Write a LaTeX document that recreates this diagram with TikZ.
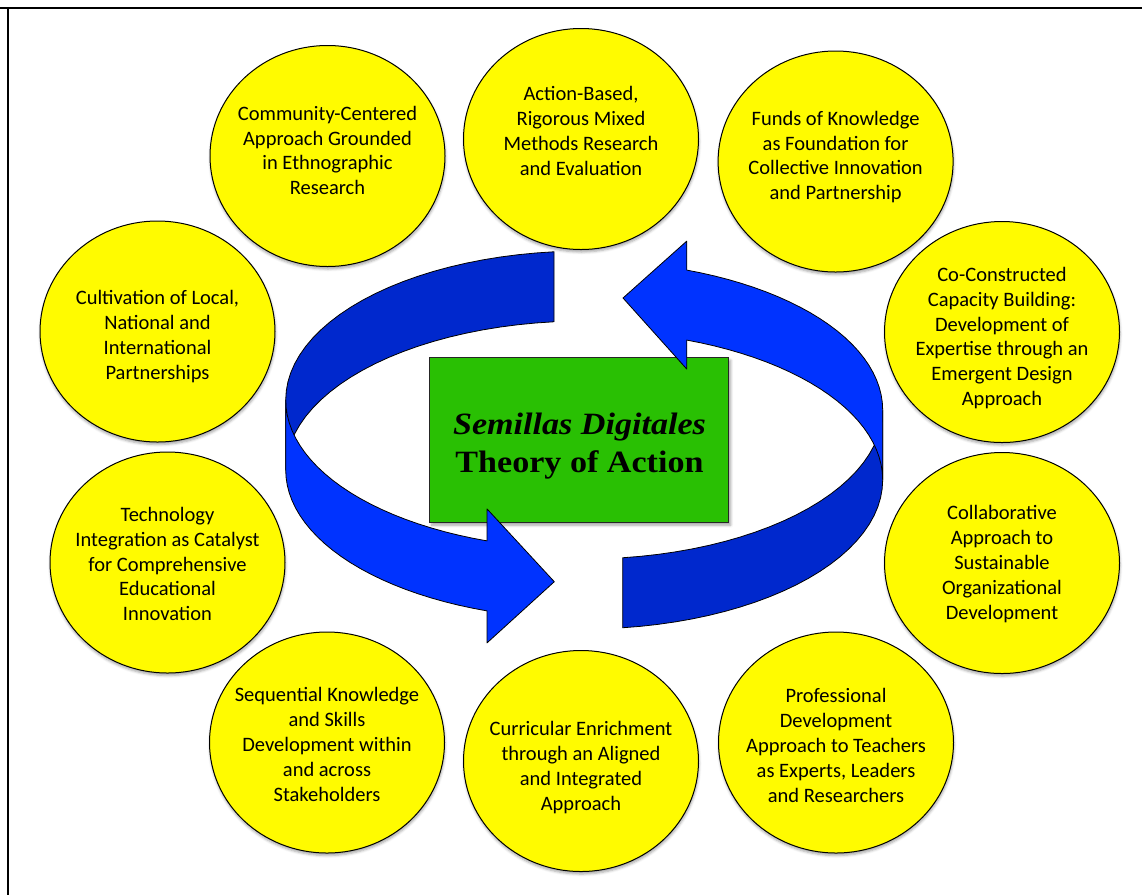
\documentclass[tikz,border=0pt]{standalone}
\usepackage{fontspec}
\setmainfont{Carlito}
\newfontfamily\titlefont[FakeStretch=1.1]{Liberation Serif}
\usetikzlibrary{shapes.geometric,shadows.blur}

\definecolor{bubbleyellow}{RGB}{255,251,0}
\definecolor{boxgreen}{RGB}{41,192,3}
\definecolor{ribbonlight}{RGB}{0,51,255}
\definecolor{ribbondark}{RGB}{0,40,205}

\tikzset{
	bubble/.style={ellipse, draw=black, line width=1pt, fill=bubbleyellow,
		minimum width=235pt, minimum height=221pt, inner sep=0pt,
		blur shadow={shadow xshift=0.5pt, shadow yshift=-2.5pt, shadow blur radius=2.5pt, shadow opacity=35}},
	bubbletext/.style={align=center, font=\fontsize{20.5}{24.8}\selectfont},
	corebox/.style={draw=black!85, line width=1pt, fill=boxgreen, minimum width=299pt,
		minimum height=165pt, inner sep=0pt,
		blur shadow={shadow xshift=2pt, shadow yshift=-2.5pt, shadow blur radius=2.5pt, shadow opacity=35}},
	coretext/.style={align=center, font=\titlefont\bfseries\fontsize{31}{38}\selectfont},
	ribbon/.style={draw=black, line width=0.8pt, line join=round}
}

%Ribbon arrow wound half way round the ellipse (\cx,\cy), radii \rx,\ry, band height \bh
%#1 tail angle, #2 head angle, #3 overhang of the head, (#4,#5) tip of the head
\newcommand{\ribbonarrow}[5]{%
	%back half, seen from inside
	\filldraw[ribbon, fill=ribbondark] plot[domain=#1:180] ({\cx+\rx*cos(\x)}, {\cy+\ry*sin(\x)})
		-- plot[domain=180:#1] ({\cx+\rx*cos(\x)}, {\cy+\bh+\ry*sin(\x)}) -- cycle;
	%front half with the head
	\pgfmathsetmacro{\hx}{\cx+\rx*cos(#2)}
	\pgfmathsetmacro{\htop}{\cy+\ry*sin(#2)-#3}
	\pgfmathsetmacro{\hbot}{\cy+\bh+\ry*sin(#2)+#3}
	\filldraw[ribbon, fill=ribbonlight] plot[domain=180:#2] ({\cx+\rx*cos(\x)}, {\cy+\ry*sin(\x)})
		-- (\hx,\htop) -- (#4,#5) -- (\hx,\hbot)
		-- plot[domain=#2:180] ({\cx+\rx*cos(\x)}, {\cy+\bh+\ry*sin(\x)}) -- cycle;
}

\begin{document}
\begin{tikzpicture}[x=1pt,y=-1pt]

	\useasboundingbox (0,0) rectangle (1142,895);

	%Frame
	\draw[line width=2pt] (0,7.5) -- (1142,7.5);
	\draw[line width=2pt] (7.5,7.5) -- (7.5,895);

	%The ten circles, clockwise from the top
	\node[bubble] (c1) at (581,139) {};
	\node[bubble] (c2) at (835.6,161.5) {};
	\node[bubble] (c3) at (1002,332) {};
	\node[bubble] (c4) at (1002,563) {};
	\node[bubble] (c5) at (836,742.5) {};
	\node[bubble] (c6) at (581,761) {};
	\node[bubble] (c7) at (327,742.5) {};
	\node[bubble] (c8) at (167.5,562.5) {};
	\node[bubble] (c9) at (157.5,331.5) {};
	\node[bubble] (c10) at (327.5,156) {};

	\node[bubbletext] (t1) at (581,131) {Action-Based,\\Rigorous Mixed\\Methods Research\\and Evaluation};
	\node[bubbletext] (t2) at (835.6,157) {Funds of Knowledge\\as Foundation for\\Collective Innovation\\and Partnership};
	\node[bubbletext] (t3) at (1002,338) {Co-Constructed\\Capacity Building:\\Development of\\Expertise through an\\Emergent Design\\Approach};
	\node[bubbletext] (t4) at (1002,564) {Collaborative\\Approach to\\Sustainable\\Organizational\\Development};
	\node[bubbletext] (t5) at (836,745.5) {Professional\\Development\\Approach to Teachers\\as Experts, Leaders\\and Researchers};
	\node[bubbletext] (t6) at (581,767.5) {Curricular Enrichment\\through an Aligned\\and Integrated\\Approach};
	\node[bubbletext] (t7) at (327,744.5) {Sequential Knowledge\\and Skills\\Development within\\and across\\Stakeholders};
	\node[bubbletext] (t8) at (167.5,564) {Technology\\Integration as Catalyst\\for Comprehensive\\Educational\\Innovation};
	\node[bubbletext] (t9) at (157.5,336.5) {Cultivation of Local,\\National and\\International\\Partnerships};
	\node[bubbletext] (t10) at (327.5,150.5) {Community-Centered\\Approach Grounded\\in Ethnographic\\Research};

	%Centre box
	\node[corebox] (core) at (579.2,440.2) {};
	\node[coretext] (title) at (579.5,446) {\textit{Semillas Digitales}\\Theory of Action};

	%Ellipse carrying both ribbons
	\pgfmathsetmacro{\cx}{584.2}
	\pgfmathsetmacro{\cy}{400}
	\pgfmathsetmacro{\rx}{298.5}
	\pgfmathsetmacro{\ry}{149}
	\pgfmathsetmacro{\bh}{70}

	%Left ribbon, head pointing right at the bottom
	\ribbonarrow{264.2}{109}{32}{554.3}{581.7}

	%Right ribbon is the same one turned half round
	\begin{scope}[rotate around={180:(584.2,440)}]
		\ribbonarrow{262.6}{110.1}{29}{545.4}{582}
	\end{scope}

\end{tikzpicture}
\end{document}
